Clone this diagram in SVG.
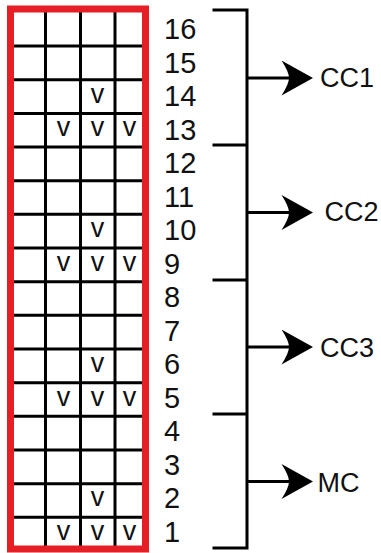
<svg xmlns="http://www.w3.org/2000/svg" width="381" height="553" viewBox="0 0 381 553">
<style>
.grid{stroke:#000;stroke-width:3;fill:none}
.frame{stroke:#e61e25;stroke-width:7;fill:none}
.num{font-family:"Liberation Sans",Arial,sans-serif;font-size:29px;fill:#111}
.v{font-family:"Liberation Sans",Arial,sans-serif;font-size:27px;fill:#111;text-anchor:middle}
.lbl{font-family:"Liberation Sans",Arial,sans-serif;font-size:27px;fill:#111}
.br{stroke:#000;stroke-width:3;fill:none}
</style>
<defs>
<marker id="ah" viewBox="0 0 32 35" refX="19" refY="17.5" markerWidth="32" markerHeight="35" markerUnits="userSpaceOnUse" orient="auto">
<path d="M32,17.5 L0.5,0 Q8,11.5 8,17.5 Q8,23.5 0.5,35 Z" fill="#000"/>
</marker>
</defs>
<rect width="381" height="553" fill="#fff"/>
<g id="grid">
<path class="grid" d="M45.5,9V549M80.5,9V549M115,9V549
M10,46.06H145M10,79.72H145M10,113.38H145M10,147.04H145M10,180.7H145M10,214.36H145M10,248.02H145M10,281.68H145M10,315.34H145M10,349H145M10,382.66H145M10,416.32H145M10,449.98H145M10,483.64H145M10,517.3H145"/>
<rect class="frame" x="10.5" y="9" width="135" height="540"/>
<g id="checks">
<text class="v" x="97.5" y="102.5">v</text>
<text class="v" x="63.5" y="136.2">v</text><text class="v" x="97.5" y="136.2">v</text><text class="v" x="129.5" y="136.2">v</text>
<text class="v" x="97.5" y="237.2">v</text>
<text class="v" x="63.5" y="270.8">v</text><text class="v" x="97.5" y="270.8">v</text><text class="v" x="129.5" y="270.8">v</text>
<text class="v" x="97.5" y="371.8">v</text>
<text class="v" x="63.5" y="405.5">v</text><text class="v" x="97.5" y="405.5">v</text><text class="v" x="129.5" y="405.5">v</text>
<text class="v" x="97.5" y="506.4">v</text>
<text class="v" x="63.5" y="540.1">v</text><text class="v" x="97.5" y="540.1">v</text><text class="v" x="129.5" y="540.1">v</text>
</g>
</g>
<g id="numbers">
<text class="num" x="164" y="39.3">16</text>
<text class="num" x="164" y="72.8">15</text>
<text class="num" x="164" y="106.3">14</text>
<text class="num" x="164" y="139.8">13</text>
<text class="num" x="164" y="173.3">12</text>
<text class="num" x="164" y="206.8">11</text>
<text class="num" x="164" y="240.3">10</text>
<text class="num" x="164" y="273.8">9</text>
<text class="num" x="164" y="307.3">8</text>
<text class="num" x="164" y="340.8">7</text>
<text class="num" x="164" y="374.3">6</text>
<text class="num" x="164" y="407.8">5</text>
<text class="num" x="164" y="441.3">4</text>
<text class="num" x="164" y="474.8">3</text>
<text class="num" x="164" y="508.3">2</text>
<text class="num" x="164" y="541.8">1</text>
</g>
<g id="connectors">
<path class="br" d="M212.5,10H247V548H212.5M212.5,145H247M212.5,280H247M212.5,414H247"/>
<line class="br" x1="247" y1="78" x2="300" y2="78" marker-end="url(#ah)"/>
<line class="br" x1="247" y1="212.5" x2="300" y2="212.5" marker-end="url(#ah)"/>
<line class="br" x1="247" y1="347" x2="300" y2="347" marker-end="url(#ah)"/>
<line class="br" x1="247" y1="481.5" x2="300" y2="481.5" marker-end="url(#ah)"/>
</g>
<g id="cc1"><text class="lbl" x="320" y="87">CC1</text></g>
<g id="cc2"><text class="lbl" x="324.5" y="221">CC2</text></g>
<g id="cc3"><text class="lbl" x="320" y="356.5">CC3</text></g>
<g id="mc"><text class="lbl" x="317.5" y="492">MC</text></g>
</svg>
